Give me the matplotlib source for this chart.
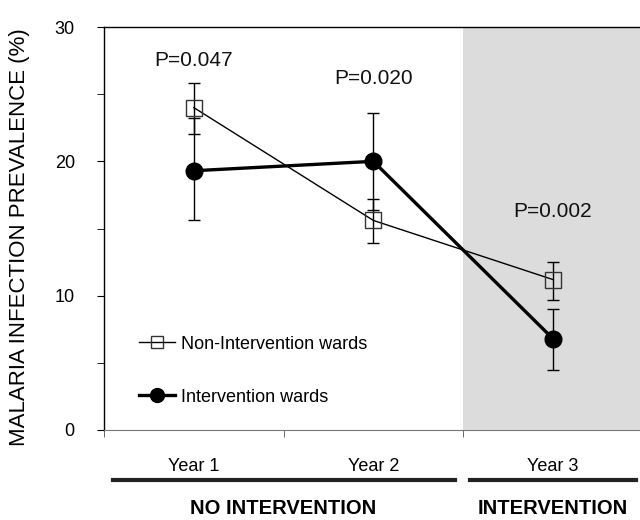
import matplotlib.pyplot as plt
from matplotlib.lines import Line2D
import numpy as np

plt.rcParams['font.family'] = ['Liberation Sans', 'DejaVu Sans']

# data
years = ['Year 1', 'Year 2', 'Year 3']
non_int = [24.0, 15.6, 11.2]
non_int_lo = [22.0, 13.9, 9.7]
non_int_hi = [25.8, 17.2, 12.5]
interv = [19.3, 20.0, 6.8]
interv_lo = [15.6, 16.4, 4.5]
interv_hi = [23.2, 23.6, 9.0]
p_labels = ['P=0.047', 'P=0.020', 'P=0.002']
p_ypos = [27.5, 26.2, 16.3]

x = np.arange(1, len(years) + 1)

fig = plt.figure(figsize=(6.4, 5.2), dpi=100)
ax = fig.add_axes([104 / 640, 90 / 520, 536 / 640, 403 / 520])

# shaded intervention period
ax.axvspan(2.5, 3.6, color='#dcdcdc', zorder=0, lw=0)

err_n = [np.array(non_int) - np.array(non_int_lo), np.array(non_int_hi) - np.array(non_int)]
err_i = [np.array(interv) - np.array(interv_lo), np.array(interv_hi) - np.array(interv)]

ax.errorbar(x, non_int, yerr=err_n, color='black', lw=1.0, elinewidth=1.0,
            capsize=4, capthick=1.0, marker='s', ms=11, mfc='none', mec='#333333',
            mew=1.0, zorder=3)
ax.errorbar(x, interv, yerr=err_i, color='black', lw=2.4, elinewidth=1.0,
            capsize=4, capthick=1.0, marker='o', ms=12, mfc='black', mec='black',
            zorder=4)

for xi, txt, yp in zip(x, p_labels, p_ypos):
    ax.text(xi, yp, txt, ha='center', va='center', fontsize=15, color='#111111')

ax.set_xlim(0.5, 3.485)
ax.set_ylim(0, 30)
ax.set_xticks(x)
ax.set_xticklabels(years, fontsize=13)
ax.set_xticks([0.5, 1.5, 2.5], minor=True)
ax.tick_params(axis='x', which='major', length=0, pad=20)
ax.tick_params(axis='x', which='minor', length=5, direction='out', color='#555555')
ax.set_yticks([0, 10, 20, 30])
ax.set_yticks([5, 15, 25], minor=True)
ax.tick_params(axis='y', which='both', length=5, direction='out', labelsize=13, pad=16)
ax.set_ylabel('MALARIA INFECTION PREVALENCE (%)', fontsize=16)
ax.yaxis.set_label_coords(-0.138, 0.478)

ax.spines['right'].set_visible(False)
for s in ['left', 'top']:
    ax.spines[s].set_linewidth(1.0)
ax.spines['bottom'].set_color('#777777')

handles = [
    Line2D([], [], color='black', lw=1.0, marker='s', ms=9, mfc='none', mec='#333333'),
    Line2D([], [], color='black', lw=2.4, marker='o', ms=10, mfc='black', mec='black'),
]
ax.legend(handles, ['Non-Intervention wards', 'Intervention wards'],
          loc='lower left', bbox_to_anchor=(0.035, 0.02), frameon=False, fontsize=13,
          handlelength=2.0, handletextpad=0.3, labelspacing=2.0)

# period bars under the axis
tr = ax.get_xaxis_transform()
ax.plot([0.55, 2.455], [-0.124, -0.124], color='#222222', lw=3, transform=tr, clip_on=False)
ax.plot([2.54, 3.46], [-0.124, -0.124], color='#222222', lw=3, transform=tr, clip_on=False)
ax.text(1.5, -0.194, 'NO INTERVENTION', transform=tr, ha='center', va='center',
        fontsize=14.5, fontweight='bold')
ax.text(3.0, -0.194, 'INTERVENTION', transform=tr, ha='center', va='center',
        fontsize=14.5, fontweight='bold')

fig.savefig('out.png', dpi=100)
